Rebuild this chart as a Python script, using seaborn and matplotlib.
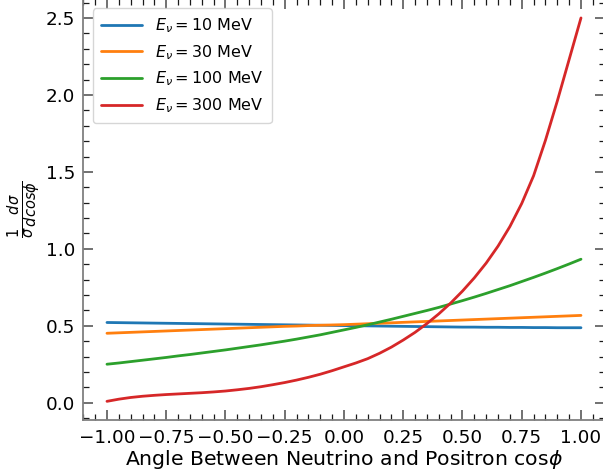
import numpy as np
import pandas as pd
import matplotlib
matplotlib.use("Agg")
import matplotlib.pyplot as plt
from matplotlib.ticker import MultipleLocator
import seaborn as sns

# cos(phi) grid and normalised angular distributions for each neutrino energy
cos_phi = [-1.00, -0.95, -0.90, -0.85, -0.80, -0.75, -0.70, -0.65, -0.60, -0.55,
           -0.50, -0.45, -0.40, -0.35, -0.30, -0.25, -0.20, -0.15, -0.10, -0.05,
           0.00, 0.05, 0.10, 0.15, 0.20, 0.25, 0.30, 0.35, 0.40, 0.45,
           0.50, 0.55, 0.60, 0.65, 0.70, 0.75, 0.80, 0.85, 0.90, 0.95, 1.00]

e10 = [0.522, 0.521, 0.520, 0.519, 0.518, 0.517, 0.516, 0.515, 0.514, 0.513,
       0.512, 0.511, 0.510, 0.509, 0.508, 0.507, 0.506, 0.505, 0.504, 0.503,
       0.502, 0.501, 0.500, 0.499, 0.498, 0.497, 0.496, 0.495, 0.494, 0.493,
       0.492, 0.492, 0.491, 0.491, 0.490, 0.490, 0.489, 0.489, 0.488, 0.488, 0.488]

e30 = [0.452, 0.455, 0.458, 0.461, 0.464, 0.467, 0.470, 0.473, 0.476, 0.479,
       0.482, 0.485, 0.488, 0.491, 0.494, 0.497, 0.499, 0.502, 0.504, 0.506,
       0.508, 0.511, 0.514, 0.517, 0.520, 0.523, 0.526, 0.529, 0.532, 0.535,
       0.538, 0.541, 0.544, 0.547, 0.550, 0.553, 0.556, 0.559, 0.562, 0.565, 0.568]

e100 = [0.251, 0.259, 0.268, 0.277, 0.286, 0.295, 0.305, 0.314, 0.324, 0.334,
        0.344, 0.355, 0.366, 0.377, 0.389, 0.401, 0.414, 0.428, 0.442, 0.458,
        0.474, 0.490, 0.507, 0.525, 0.543, 0.562, 0.581, 0.600, 0.620, 0.642,
        0.664, 0.687, 0.711, 0.736, 0.761, 0.788, 0.815, 0.843, 0.872, 0.902, 0.933]

e300 = [0.010, 0.024, 0.035, 0.043, 0.049, 0.054, 0.058, 0.062, 0.066, 0.071,
        0.077, 0.085, 0.094, 0.105, 0.118, 0.132, 0.148, 0.166, 0.186, 0.209,
        0.234, 0.259, 0.287, 0.322, 0.362, 0.408, 0.458, 0.515, 0.578, 0.648,
        0.726, 0.812, 0.908, 1.018, 1.145, 1.295, 1.475, 1.705, 1.960, 2.230, 2.500]

labels = [r"$E_{\nu} = 10$ MeV", r"$E_{\nu} = 30$ MeV",
          r"$E_{\nu} = 100$ MeV", r"$E_{\nu} = 300$ MeV"]
series = [e10, e30, e100, e300]

df = pd.concat(
    [pd.DataFrame({"cos": cos_phi, "dist": vals, "energy": lab})
     for lab, vals in zip(labels, series)],
    ignore_index=True,
)

sns.set_style("white")
plt.rcParams["font.family"] = ["DejaVu Sans"]
plt.rcParams["mathtext.fontset"] = "dejavusans"
plt.rcParams["axes.unicode_minus"] = True
plt.rcParams["text.color"] = "black"
plt.rcParams["axes.labelcolor"] = "black"

fig = plt.figure(figsize=(6.03, 4.76), dpi=100)
ax = fig.add_axes([0.1381, 0.1166, 0.8647, 0.886])

sns.lineplot(data=df, x="cos", y="dist", hue="energy", hue_order=labels,
             palette=["#1f77b4", "#ff7f0e", "#2ca02c", "#d62728"],
             linewidth=2.0, ax=ax)

ax.margins(x=0.05, y=0.05)
ax.xaxis.set_major_locator(MultipleLocator(0.25))
ax.xaxis.set_minor_locator(MultipleLocator(0.05))
ax.yaxis.set_major_locator(MultipleLocator(0.5))
ax.yaxis.set_minor_locator(MultipleLocator(0.1))

ax.tick_params(which="both", direction="in", bottom=True, left=True,
               top=True, right=True, labelsize=13.2, pad=6,
               labelcolor="black")
ax.tick_params(which="major", length=7, width=1.2, color="0.35")
ax.tick_params(which="minor", length=4, width=0.9, color="0.1")

for sp in ax.spines.values():
    sp.set_color("0.5")
    sp.set_linewidth(1.3)

ax.set_xlabel(r"Angle Between Neutrino and Positron cos$\phi$",
              fontsize=14.7, labelpad=1)
ax.set_ylabel(r"$\frac{1}{\sigma}\frac{d\sigma}{dcos\phi}$", fontsize=15,
              labelpad=2)

leg = ax.legend(loc="upper left", fontsize=11.5, handlelength=2.6,
                borderpad=0.5, borderaxespad=0.6,
                frameon=True, fancybox=True, framealpha=0.8, edgecolor="0.8",
                title=None)
for t in leg.get_texts():
    t.set_color("black")

fig.savefig("out.png", dpi=100)
